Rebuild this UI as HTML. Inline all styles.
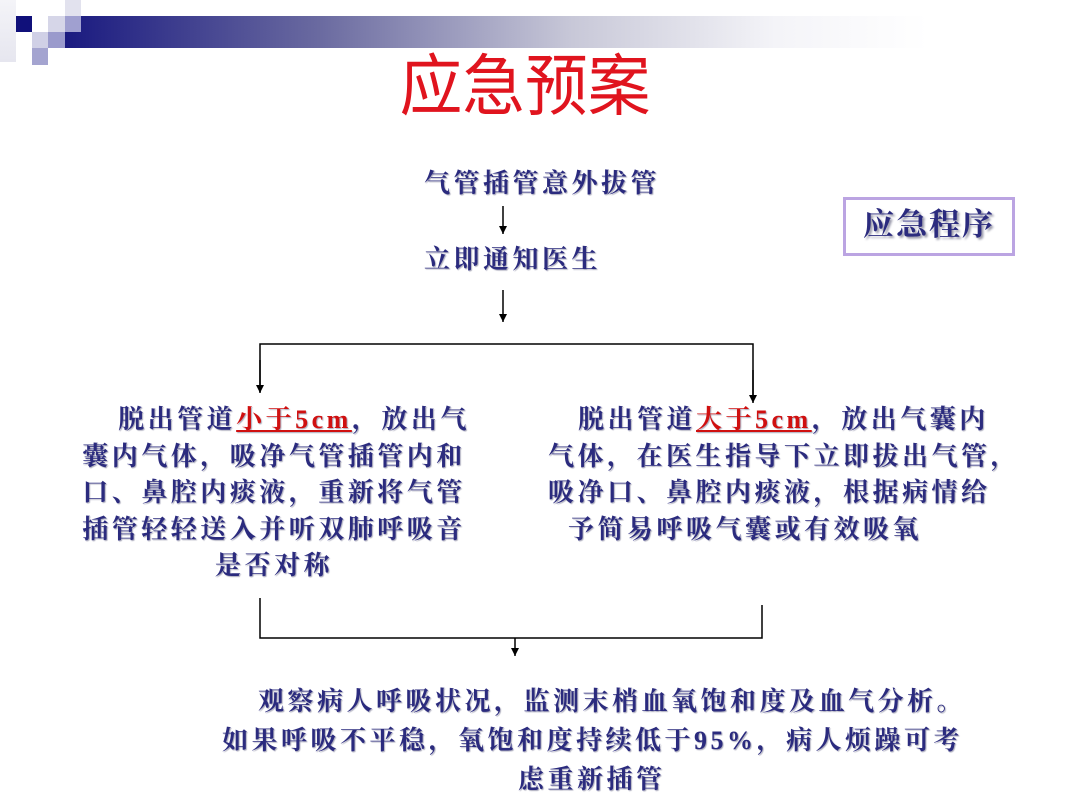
<!DOCTYPE html>
<html><head><meta charset="utf-8"><style>
body{margin:0;width:1080px;height:810px;background:#fff;position:relative;overflow:hidden;font-family:"Liberation Serif","Noto Serif CJK SC",serif}
.a{position:absolute}
.t{position:absolute;color:#2b2b7e;font-size:26px;font-weight:bold;letter-spacing:3.5px;white-space:nowrap;text-shadow:1px 1px 1px #aab}
.r{color:#d01010;text-decoration:underline}
</style></head><body>
<div class="a" style="left:0;top:0;width:16px;height:62px;background:linear-gradient(#f4f4f8,#e6e6ef)"></div>
<div class="a" style="left:16px;top:16px;width:16px;height:16px;background:#10107a"></div>
<div class="a" style="left:48px;top:16px;width:17px;height:16px;background:#d6d6e8"></div>
<div class="a" style="left:65px;top:0;width:16px;height:16px;background:#e2e2ee"></div>
<div class="a" style="left:32px;top:32px;width:16px;height:16px;background:#d0d0e6"></div>
<div class="a" style="left:48px;top:32px;width:17px;height:16px;background:#9a9acc"></div>
<div class="a" style="left:32px;top:48px;width:16px;height:17px;background:#a4a4d0"></div>
<div class="a" style="left:65px;top:16px;width:1015px;height:32px;background:linear-gradient(90deg,#1a1a80 0%,#6a6aa0 25%,#c8c8d8 50%,#f4f4f8 70%,#fff 85%)"></div>
<div class="a" style="left:65px;top:16px;width:16px;height:16px;background:#a0a0d0"></div>
<div class="a" style="left:375px;top:46px;width:300px;text-align:center;font-family:'Liberation Sans','Noto Sans CJK SC',sans-serif;color:#e0141e;font-size:66px;line-height:80px;transform:scale(0.95,1.02)">应急预案</div>
<div class="a" style="left:843px;top:197px;width:166px;height:53px;border:3px solid #bba4e2"></div>
<div class="t" style="left:843px;top:200px;width:172px;text-align:center;font-size:31px;line-height:50px;letter-spacing:2px;text-shadow:2px 2px 2px #99a">应急程序</div>
<div class="t" style="left:424px;top:167px;line-height:34px">气管插管意外拔管</div>
<div class="t" style="left:424px;top:243px;line-height:34px">立即通知医生</div>
<div class="t" style="left:78px;top:402px;width:392px;line-height:36.5px;text-align:center">&nbsp;&nbsp;&nbsp;&nbsp;脱出管道<span class="r">小于5cm</span>，放出气<br>囊内气体，吸净气管插管内和<br>口、鼻腔内痰液，重新将气管<br>插管轻轻送入并听双肺呼吸音<br>是否对称</div>
<div class="t" style="left:548px;top:402px;line-height:36.5px">&nbsp;&nbsp;&nbsp;脱出管道<span class="r">大于5cm</span>，放出气囊内<br>气体，在医生指导下立即拔出气管，<br>吸净口、鼻腔内痰液，根据病情给<br>&nbsp;&nbsp;予简易呼吸气囊或有效吸氧</div>
<div class="t" style="left:258px;top:682px;line-height:39px">观察病人呼吸状况，监测末梢血氧饱和度及血气分析。</div>
<div class="t" style="left:222px;top:721px;line-height:39px">如果呼吸不平稳，氧饱和度持续低于95%，病人烦躁可考</div>
<div class="t" style="left:518px;top:760px;line-height:39px">虑重新插管</div>
<svg class="a" style="left:0;top:0" width="1080" height="810">
<defs><marker id="m" markerWidth="8" markerHeight="8" refX="8" refY="4" orient="auto" markerUnits="userSpaceOnUse"><path d="M0,0 L8,4 L0,8z" fill="#000"/></marker></defs>
<g stroke="#000" stroke-width="1.5" fill="none">
<line x1="503" y1="206" x2="503" y2="234" marker-end="url(#m)"/>
<line x1="503" y1="290" x2="503" y2="322" marker-end="url(#m)"/>
<polyline points="260,392 260,344 753,344 753,400"/>
<line x1="260" y1="360" x2="260" y2="393" marker-end="url(#m)"/>
<line x1="753" y1="370" x2="753" y2="403" marker-end="url(#m)"/>
<polyline points="260,598 260,638 762,638 762,605"/>
<line x1="515" y1="638" x2="515" y2="656" marker-end="url(#m)"/>
</g></svg>
</body></html>
